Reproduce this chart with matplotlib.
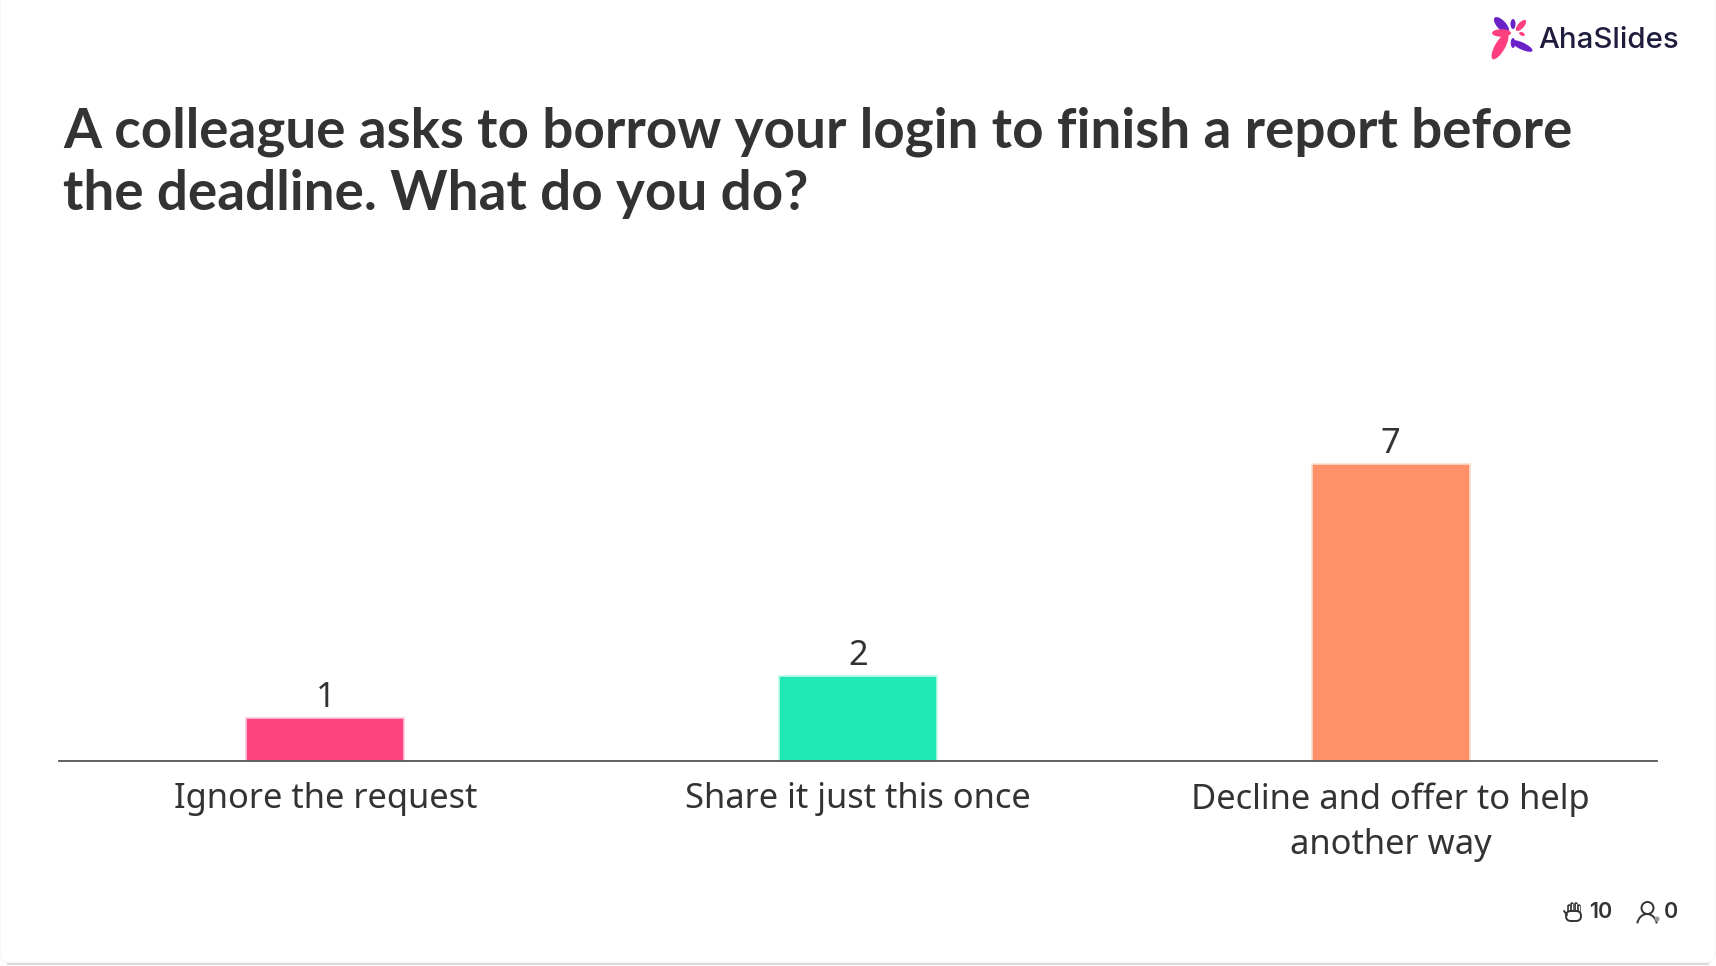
import matplotlib
matplotlib.use("Agg")
import matplotlib.pyplot as plt
from matplotlib.patches import Ellipse, FancyBboxPatch, Circle, Arc

# Data
categories = ["Ignore the request", "Share it just this once", "Decline and offer to help\nanother way"]
votes = [1, 2, 7]
bar_colors = ["#FF4280", "#1FE8B4", "#FF9068"]
edge_colors = ["#FFC6D9", "#C0F8EA", "#FFDCCF"]
title = "A colleague asks to borrow your login to finish a report before\nthe deadline. What do you do?"
reactions = "10"
audience = "0"

W, H = 1716, 966
text_col = "#333333"

plt.rcParams["font.family"] = ["Noto Sans", "DejaVu Sans"]
fig = plt.figure(figsize=(W / 100, H / 100), dpi=100)

# overlay in pixels for frame, logo and icons
bg = fig.add_axes([0, 0, 1, 1])
bg.set_xlim(0, W)
bg.set_ylim(H, 0)
bg.axis("off")
bg.add_patch(FancyBboxPatch((0, -10), W - 1, H - 3 + 10, boxstyle="round,pad=0,rounding_size=10",
                            fc="white", ec="#F6F6F6", lw=1))
bg.plot([8, W - 8], [H - 2.5, H - 2.5], color="#DADADA", lw=1.5)

# main chart
ax = fig.add_axes([59 / W, 1 - 760.5 / H, 1598 / W, 339.2 / H])
ax.patch.set_alpha(0)
x = list(range(len(categories)))
bars = ax.bar(x, votes, width=0.297, color=bar_colors, edgecolor=edge_colors, linewidth=1.2)
ax.set_xlim(-0.5, 2.5)
ax.set_ylim(0, 8)
ax.set_yticks([])
ax.set_xticks(x)
ax.set_xticklabels(categories, fontsize=24.8, color=text_col, linespacing=1.43)
ax.tick_params(axis="x", length=0, pad=15.5)
for s in ["top", "left", "right"]:
    ax.spines[s].set_visible(False)
ax.spines["bottom"].set_color("#555555")
ax.spines["bottom"].set_linewidth(1.3)
ax.bar_label(bars, labels=[str(v) for v in votes], fontsize=24.8, color=text_col, padding=2)

# title
lines = title.split("\n")
bg.text(63, 132, lines[0], fontsize=39.4, fontweight="bold", color=text_col,
        family="Lato", va="center", ha="left")
bg.text(63, 194, lines[1], fontsize=39.4, fontweight="bold", color=text_col,
        family="Lato", va="center", ha="left")

# logo
purple, pink = "#6A22C8", "#FF3F80"
for cx, cy, w, h, ang, c in [
    (1501.5, 25, 20, 9, 47, purple), (1513, 24, 10, 5, 90, purple),
    (1521, 25.5, 14, 6, -48, pink), (1522, 34, 6, 3.5, 25, pink),
    (1522, 46, 23, 7, 25, purple), (1513, 43, 10, 4.5, 90, purple),
    (1501.5, 33, 19, 7.5, 0, pink), (1500, 46.5, 29, 10, -60, pink),
]:
    bg.add_patch(Ellipse((cx, cy), w, h, angle=ang, color=c, lw=0))
bg.text(1538, 41, "AhaSlides", fontsize=21.2, fontweight="medium", color="#1F1D3D", family="Inter", va="center", ha="left")

# reaction and audience counters
for fx, ft in [(1568.5, 906), (1572, 903.5), (1575.5, 903.5), (1579, 906)]:
    bg.plot([fx, fx], [ft, 914], color="#333333", lw=2.6, solid_capstyle="round", zorder=2)
    bg.plot([fx, fx], [ft, 914], color="white", lw=0.9, solid_capstyle="round", zorder=2.1)
bg.add_patch(FancyBboxPatch((1566, 911), 15, 10, boxstyle="round,pad=0,rounding_size=5",
                            fc="white", ec="#333333", lw=1.4, zorder=2.2))
bg.plot([1564, 1567], [911, 915], color="#333333", lw=1.4, solid_capstyle="round", zorder=2.3)
bg.text(1601, 912, reactions, fontsize=15.5, fontweight="semibold", color=text_col, family="Inter", va="center", ha="center")
bg.add_patch(Circle((1647.5, 908), 6, fc="white", ec="#333333", lw=1.4))
bg.add_patch(Arc((1647, 926), 20, 24, theta1=195, theta2=345, ec="#333333", lw=1.4))
bg.add_patch(Circle((1657, 919), 2.5, fc="#999999", ec="none", zorder=3))
bg.text(1671, 912, audience, fontsize=15.5, fontweight="semibold", color=text_col, family="Inter", va="center", ha="center")

fig.savefig("out.png", dpi=100)
